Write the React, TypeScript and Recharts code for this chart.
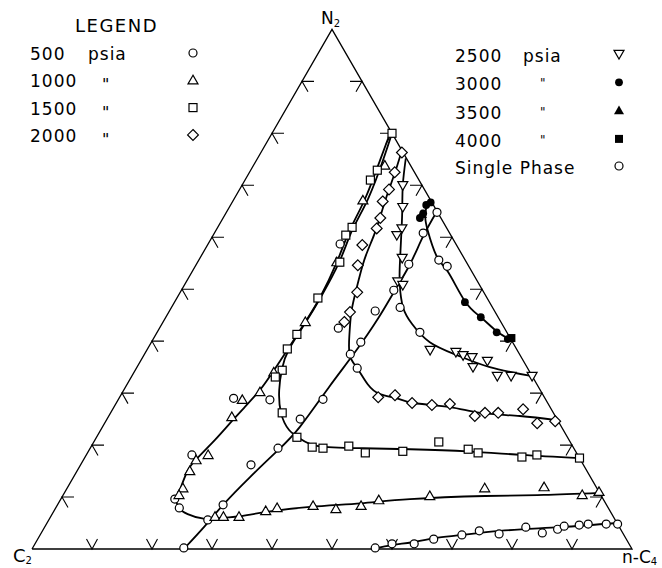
import React from "react";
import { ScatterChart, Scatter, XAxis, YAxis } from "recharts";

const W = 662;
const H = 568;

// all compositions are [N2 mol %, n-C4 mol %], C2 is the remainder
const LINE_500_DEW = [
  [0, 25.3], [4.4, 26.6], [8.5, 27.6], [13.8, 29.4], [19.0, 31.5], [23.5, 32.9],
  [31.0, 33.9], [37.9, 34.9], [44.4, 35.5], [49.8, 35.6], [54.8, 35.6], [60.2, 35.1], [65.0, 35.0],
];
const LINE_500_BUB = [
  [0, 56.7], [0.8, 59.8], [1.3, 62.7], [2.1, 66.1], [2.7, 70.3], [3.5, 76.3], [4.2, 85.9], [5.0, 95.0],
];
const LINE_1000 = [
  [80.4, 19.6], [74.8, 20.6], [67.5, 21.8], [61.3, 22.3], [55.2, 23.2], [48.5, 23.8], [43.7, 23.7],
  [38.3, 23.4], [34.0, 23.1], [30.6, 22.7], [27.3, 21.8], [24.6, 21.0], [21.0, 20.0], [17.5, 18.8],
  [15.2, 18.4], [12.3, 18.8], [9.8, 19.3], [8.1, 20.3], [6.7, 22.6], [5.8, 25.9], [6.0, 28.7],
  [6.3, 31.5], [7.1, 35.3], [8.1, 42.3], [8.8, 50.4], [9.6, 58.2], [10.2, 70.4], [10.4, 80.1], [10.8, 89.2],
];
const LINE_1500 = [
  [80.0, 20.0], [74.8, 21.1], [67.5, 22.3], [61.3, 22.7], [55.2, 23.6], [48.5, 23.9], [43.7, 23.8],
  [38.5, 23.6], [34.8, 24.3], [30.6, 25.9], [26.2, 28.4], [22.9, 31.4], [21.2, 34.1], [19.8, 37.8],
  [19.4, 45.0], [19.2, 53.4], [18.8, 63.2], [18.1, 72.6], [17.5, 82.5],
];
const LINE_2000 = [
  [76.7, 23.3], [72.3, 24.3], [68.7, 25.0], [64.2, 26.0], [60.4, 26.8], [56.5, 27.4], [52.7, 28.3],
  [48.8, 29.4], [45.4, 30.5], [41.2, 32.3], [37.3, 34.3], [34.8, 36.8], [31.7, 40.1], [29.8, 43.1],
  [29.0, 46.3], [28.1, 49.5], [27.3, 56.0], [26.2, 61.6], [25.6, 68.5], [24.8, 75.1],
];
const LINE_2500 = [
  [75.2, 24.7], [70.0, 26.8], [64.8, 29.3], [59.4, 31.8], [54.6, 34.0], [50.8, 35.9],
  [46.5, 38.6], [43.3, 41.7], [39.8, 46.4], [37.3, 52.2], [35.0, 58.8], [33.3, 66.5],
];
const LINE_3000 = [
  [67.1, 32.9], [65.6, 32.9], [63.7, 33.7], [61.3, 35.3], [56.2, 39.4], [53.3, 42.7],
  [47.7, 48.3], [44.6, 52.5], [41.9, 56.5], [40.2, 59.7],
];

const PTS_500 = [
  [0.2, 25.2], [8.5, 27.6], [5.6, 26.5], [7.9, 20.6], [9.6, 19.0], [18.1, 17.6], [19.4, 31.3],
  [25.0, 32.2], [28.8, 34.1], [37.5, 34.3], [34.8, 36.8], [39.8, 34.9], [45.8, 34.3], [46.5, 38.1],
  [49.8, 35.4], [54.8, 35.4], [60.8, 34.8], [64.8, 35.1], [41.7, 43.8], [58.7, 22.0], [0.2, 57.1],
  [1.0, 59.5], [1.0, 63.2], [1.9, 66.0], [2.7, 70.3], [3.5, 72.8], [2.9, 76.4], [4.2, 80.2],
  [3.1, 83.5], [3.8, 85.7], [4.4, 86.5], [4.6, 88.9], [4.8, 90.3], [4.8, 93.3], [4.8, 95.2],
];
const PTS_SINGLE = [
  [16.2, 28.4], [28.7, 25.3], [29.0, 19.1], [42.5, 29.8], [55.6, 40.0], [54.4, 42.0],
];
const PTS_1000 = [
  [73.8, 21.9], [67.1, 21.6], [55.2, 23.2], [43.7, 23.7], [34.0, 23.3], [30.2, 22.9], [28.7, 20.7],
  [25.4, 20.6], [18.1, 20.3], [17.1, 18.8], [15.0, 18.8], [11.7, 19.3], [10.4, 19.3], [6.2, 27.4],
  [6.2, 28.8], [6.2, 31.4], [7.3, 35.3], [7.9, 36.9], [8.3, 42.7], [7.7, 46.8], [8.3, 50.7],
  [9.4, 53.1], [10.2, 61.2], [11.7, 69.6], [11.9, 79.4], [10.4, 86.5], [11.0, 89.0],
];
const PTS_1500 = [
  [80.0, 20.0], [72.9, 21.1], [71.0, 20.9], [61.9, 22.4], [60.4, 22.1], [55.2, 23.7], [48.3, 23.5],
  [41.3, 23.5], [38.5, 23.3], [34.4, 24.5], [33.1, 24.0], [26.2, 28.6], [21.5, 33.4], [19.6, 36.9],
  [19.4, 38.8], [19.8, 42.9], [18.5, 46.3], [18.8, 52.4], [20.6, 57.5], [19.2, 63.1], [18.5, 65.1],
  [17.7, 72.8], [18.1, 75.1], [17.5, 82.5],
];
const PTS_2000 = [
  [76.3, 23.5], [72.5, 24.2], [69.2, 24.9], [66.9, 25.0], [63.7, 26.2], [61.7, 26.6], [58.5, 25.8],
  [54.6, 27.0], [49.4, 29.5], [45.6, 30.2], [43.7, 30.2], [29.2, 43.1], [29.6, 45.7], [28.1, 49.3],
  [27.7, 52.8], [27.9, 55.7], [25.6, 61.0], [26.2, 62.4], [26.2, 64.6], [26.9, 68.4], [24.2, 72.1],
  [24.6, 74.9],
];
const PTS_2500 = [
  [70.0, 26.8], [65.8, 28.9], [61.7, 30.8], [60.4, 30.6], [56.0, 33.7], [51.5, 35.2], [50.8, 36.4],
  [38.3, 47.2], [37.9, 51.7], [37.3, 53.2], [36.9, 54.9], [35.0, 56.0], [36.2, 57.8], [33.3, 60.9],
  [33.3, 63.2], [33.3, 66.7],
];
const PTS_3000 = [
  [66.7, 33.1], [66.2, 32.6], [64.6, 32.9], [63.7, 32.8], [47.5, 48.4], [44.6, 52.5], [41.7, 56.6],
  [40.4, 59.1],
];
const PTS_3500 = [[64.4, 32.8]];
const PTS_4000 = [[40.6, 59.6]];

const TICK_PCT = [10, 20, 30, 40, 50, 60, 70, 80, 90];
const EDGE = [[0, 0], [100, 0], [0, 100], [0, 0]];

const LEFT_P = ["500", "1000", "1500", "2000"];
const LEFT_K = ["circle", "tri", "square", "diamond"];
const RIGHT_P = ["2500", "3000", "3500", "4000"];
const RIGHT_K = ["tridown", "dot", "triSolid", "squareSolid"];

const H3 = Math.sqrt(3) / 2;
const toXY = (p: number[]) => ({ x: (p[1] + p[0] / 2) / 100, y: (p[0] / 100) * H3 });

// C2 corner sits at page (32,549), triangle side is 600px
const X_DOMAIN = [-32 / 600, (W - 32) / 600];
const Y_DOMAIN = [-(H - 549) / 600, 549 / 600];

const FONT = "DejaVu Sans";

function glyph(kind: string, cx: number, cy: number, key?: string) {
  const s = { stroke: "#000", strokeWidth: 1.2, fill: "#fff" };
  const k = { fill: "#000" };
  switch (kind) {
    case "circle":
      return <circle key={key} cx={cx} cy={cy} r={4} {...s} />;
    case "dot":
      return <circle key={key} cx={cx} cy={cy} r={3.9} {...k} />;
    case "tri":
      return <polygon key={key} points={`${cx},${cy - 5} ${cx - 5},${cy + 3.6} ${cx + 5},${cy + 3.6}`} {...s} />;
    case "triSolid":
      return <polygon key={key} points={`${cx},${cy - 5} ${cx - 5},${cy + 3.6} ${cx + 5},${cy + 3.6}`} {...k} />;
    case "tridown":
      return <polygon key={key} points={`${cx - 5},${cy - 3.6} ${cx + 5},${cy - 3.6} ${cx},${cy + 5}`} {...s} />;
    case "square":
      return <rect key={key} x={cx - 4} y={cy - 4} width={8} height={8} {...s} />;
    case "squareSolid":
      return <rect key={key} x={cx - 4} y={cy - 4} width={8} height={8} {...k} />;
    case "diamond":
      return <polygon key={key} points={`${cx},${cy - 5.4} ${cx + 5.4},${cy} ${cx},${cy + 5.4} ${cx - 5.4},${cy}`} {...s} />;
    default:
      return <g key={key} />;
  }
}

function TickMark(props: any) {
  const { cx, cy, payload } = props;
  let d = "";
  if (payload.side === "b") d = `M${cx - 5.5},${cy - 10} L${cx},${cy} L${cx + 5.5},${cy - 10}`;
  else if (payload.side === "l") d = `M${cx + 12},${cy} L${cx},${cy} L${cx + 6},${cy + 10.5}`;
  else d = `M${cx - 12},${cy} L${cx},${cy} L${cx - 6},${cy + 10.5}`;
  return <path d={d} stroke="#000" strokeWidth={1.1} fill="none" />;
}

const tickData = [
  ...TICK_PCT.map((t) => ({ ...toXY([0, t]), side: "b" })),
  ...TICK_PCT.map((t) => ({ ...toXY([t, 0]), side: "l" })),
  ...TICK_PCT.map((t) => ({ ...toXY([t, 100 - t]), side: "r" })),
];

const curves = [LINE_500_DEW, LINE_500_BUB, LINE_1000, LINE_1500, LINE_2000, LINE_2500, LINE_3000];
const markers: [number[][], string][] = [
  [PTS_500, "circle"],
  [PTS_SINGLE, "circle"],
  [PTS_1000, "tri"],
  [PTS_1500, "square"],
  [PTS_2000, "diamond"],
  [PTS_2500, "tridown"],
  [PTS_3000, "dot"],
  [PTS_3500, "triSolid"],
  [PTS_4000, "squareSolid"],
];

const noShape = () => <g />;

export default function App() {
  return (
    <div style={{ position: "absolute", left: 0, top: 0, width: W, height: H, background: "#fff" }}>
      <ScatterChart width={W} height={H} margin={{ top: 0, right: 0, bottom: 0, left: 0 }}>
        <XAxis type="number" dataKey="x" domain={X_DOMAIN} allowDataOverflow hide />
        <YAxis type="number" dataKey="y" domain={Y_DOMAIN} allowDataOverflow hide />
        <Scatter
          data={EDGE.map(toXY)}
          line={{ stroke: "#000", strokeWidth: 1.3 }}
          lineJointType="linear"
          shape={noShape}
          isAnimationActive={false}
        />
        <Scatter data={tickData} shape={TickMark} isAnimationActive={false} />
        {curves.map((c, i) => (
          <Scatter
            key={`c${i}`}
            data={c.map(toXY)}
            line={{ stroke: "#000", strokeWidth: 1.8 }}
            lineJointType="natural"
            shape={noShape}
            isAnimationActive={false}
          />
        ))}
        {markers.map(([pts, kind], i) => (
          <Scatter
            key={`m${i}`}
            data={pts.map(toXY)}
            shape={(p: any) => glyph(kind, p.cx, p.cy)}
            isAnimationActive={false}
          />
        ))}
      </ScatterChart>
      <svg
        width={W}
        height={H}
        style={{ position: "absolute", left: 0, top: 0, pointerEvents: "none" }}
        fontFamily={FONT}
        fill="#000"
      >
        <text x={75} y={32} fontSize={18} letterSpacing={1.5}>LEGEND</text>
        {LEFT_P.map((p, i) => {
          const y = 60 + i * 27.3;
          return (
            <g key={p}>
              <text x={30} y={y} fontSize={17} letterSpacing={1}>{p}</text>
              {i === 0 ? (
                <text x={88} y={y} fontSize={17} letterSpacing={1}>psia</text>
              ) : (
                <text x={102} y={y + 3} fontSize={16} fill="#000">"</text>
              )}
              {glyph(LEFT_K[i], 193, y - 7)}
            </g>
          );
        })}
        {RIGHT_P.map((p, i) => {
          const y = 62 + i * 28.3;
          return (
            <g key={p}>
              <text x={455} y={y} fontSize={17} letterSpacing={1}>{p}</text>
              {i === 0 ? (
                <text x={523} y={y} fontSize={17} letterSpacing={1}>psia</text>
              ) : (
                <text x={540} y={y - 3} fontSize={12} fill="#000">"</text>
              )}
              {glyph(RIGHT_K[i], 619, y - 8)}
            </g>
          );
        })}
        <text x={455} y={174} fontSize={17} letterSpacing={1}>Single Phase</text>
        {glyph("circle", 619, 166)}
        <text x={321} y={24} fontSize={17}>
          N<tspan fontSize={10} dy={3}>2</tspan>
        </text>
        <text x={13} y={562} fontSize={18}>
          C<tspan fontSize={10} dy={2}>2</tspan>
        </text>
        <text x={622} y={563} fontSize={17}>
          n-C<tspan fontSize={10} dy={2}>4</tspan>
        </text>
      </svg>
    </div>
  );
}
